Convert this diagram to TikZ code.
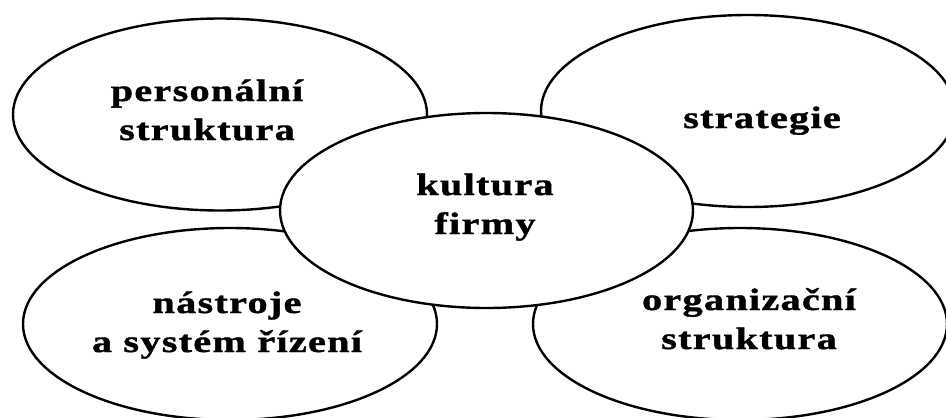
\documentclass[tikz,border=0pt]{standalone}
\usepackage{fontspec}
\setmainfont{Liberation Serif}
\newfontfamily\lblfont[FakeStretch=1.3, LetterSpace=4, FakeBold=1.2]{Liberation Serif Bold}
\usetikzlibrary{shapes.geometric}
\tikzset{
  oval/.style={ellipse, draw=black, line width=2.4pt, fill=white,
    minimum width=414pt, minimum height=192pt, inner sep=0pt},
  lbl/.style={anchor=base, inner sep=0pt,
    font=\lblfont\fontsize{31}{39}\selectfont}
}
\begin{document}
\begin{tikzpicture}[x=1pt,y=-1pt]
\useasboundingbox (0,0) rectangle (946,418);
\clip (0,0) rectangle (946,418);
\fill[white] (0,0) rectangle (946,418);
\node[oval] (tl) at (220,114.5) {};
\node[oval] (tr) at (748,111) {};
\node[oval] (bl) at (230,324) {};
\node[oval] (br) at (740,324) {};
\node[oval, minimum width=413pt, minimum height=195pt] (c) at (486.5,210.5) {};
\node[lbl] (tlt) at (207,101) {\begin{tabular}[t]{@{}c@{}}personální\\struktura\end{tabular}};
\node[lbl] (trt) at (762,128) {strategie};
\node[lbl] (ct) at (485,195) {\begin{tabular}[t]{@{}c@{}}kultura\\firmy\end{tabular}};
\node[lbl] (blt) at (227,313) {\begin{tabular}[t]{@{}c@{}}nástroje\\a systém řízení\end{tabular}};
\node[lbl] (brt) at (749,310) {\begin{tabular}[t]{@{}c@{}}organizační\\struktura\end{tabular}};
\end{tikzpicture}
\end{document}
